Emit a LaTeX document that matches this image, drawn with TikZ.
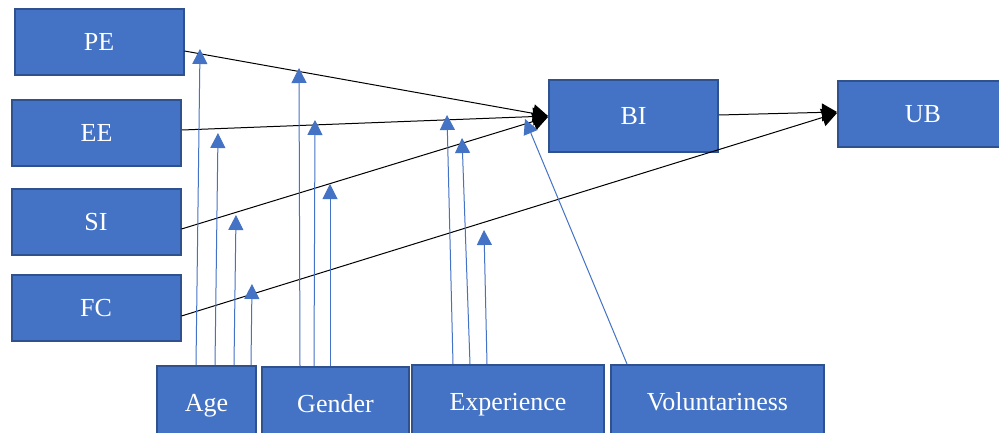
\documentclass[tikz,border=0pt]{standalone}
\usepackage{fontspec}
\setmainfont{Liberation Serif}
\usetikzlibrary{arrows.meta}
\definecolor{boxfill}{HTML}{4472C4}
\definecolor{boxline}{HTML}{2F528F}
\definecolor{modline}{HTML}{4472C4}
\begin{document}
\begin{tikzpicture}[x=1pt,y=-1pt,
  box/.style={draw=boxline, line width=2pt, fill=boxfill, text=white, inner sep=0pt,
    font=\fontsize{26}{30}\selectfont, text height=17.5pt, text depth=0pt},
  mainarrow/.style={draw=black, line width=1pt, -{Triangle[length=15pt,width=18pt]}},
  modarrow/.style={draw=modline, line width=1pt, -{Triangle[length=15pt,width=15pt]}}]
\useasboundingbox (0,0) rectangle (999,433);
\clip (0,0) rectangle (999,433);
\fill[white] (0,0) rectangle (999,433);
% left boxes
\node[box, minimum width=169pt, minimum height=66pt] (PE) at (99,42) {PE};
\node[box, minimum width=169pt, minimum height=66pt] (EE) at (96.5,133) {EE};
\node[box, minimum width=169pt, minimum height=66pt] (SI) at (96,222) {SI};
\node[box, minimum width=169pt, minimum height=66pt] (FC) at (96,308) {FC};
% right boxes
\node[box, minimum width=169pt, minimum height=72pt] (BI) at (633.5,116) {BI};
\node[box, minimum width=170pt, minimum height=66pt] (UB) at (923,114) {UB};
% bottom boxes
\node[box, minimum width=99pt, minimum height=74pt] (Age) at (206.5,403) {Age};
\node[box, minimum width=147pt, minimum height=74pt] (Gender) at (335.5,404) {Gender};
\node[box, minimum width=192pt, minimum height=74pt] (Exp) at (508,402) {Experience};
\node[box, minimum width=213pt, minimum height=74pt] (Vol) at (717.5,402) {Voluntariness};
% tip coordinates of moderator arrows
\coordinate (a1) at (200,49);
\coordinate (a2) at (218,133);
\coordinate (a3) at (236,215);
\coordinate (a4) at (252,284);
\coordinate (g1) at (299,68);
\coordinate (g2) at (315,120);
\coordinate (g3) at (330,184);
\coordinate (e1) at (447,115);
\coordinate (e2) at (462,138);
\coordinate (e3) at (484,230);
\coordinate (v1) at (525,119);
% main arrows
\draw[mainarrow] ([yshift=-9pt]PE.east) -- (BI.west);
\draw[mainarrow] ([yshift=3pt]EE.east) -- (BI.west);
\draw[mainarrow] ([yshift=-7pt]SI.east) -- ([yshift=-1pt]BI.west);
\draw[mainarrow] ([yshift=-8pt]FC.east) -- ([yshift=1pt]UB.west);
\draw[mainarrow] ([yshift=1pt]BI.east) -- ([yshift=2pt]UB.west);
% moderator arrows
\draw[modarrow] ([xshift=40pt]Age.north west) -- (a1);
\draw[modarrow] ([xshift=59pt]Age.north west) -- (a2);
\draw[modarrow] ([xshift=78pt]Age.north west) -- (a3);
\draw[modarrow] ([xshift=95pt]Age.north west) -- (a4);
\draw[modarrow] ([xshift=39pt]Gender.north west) -- (g1);
\draw[modarrow] ([xshift=53pt]Gender.north west) -- (g2);
\draw[modarrow] ([xshift=69pt]Gender.north west) -- (g3);
\draw[modarrow] ([xshift=42pt]Exp.north west) -- (e1);
\draw[modarrow] ([xshift=59pt]Exp.north west) -- (e2);
\draw[modarrow] ([xshift=76pt]Exp.north west) -- (e3);
\draw[modarrow] ([xshift=17pt]Vol.north west) -- (v1);
\end{tikzpicture}
\end{document}
